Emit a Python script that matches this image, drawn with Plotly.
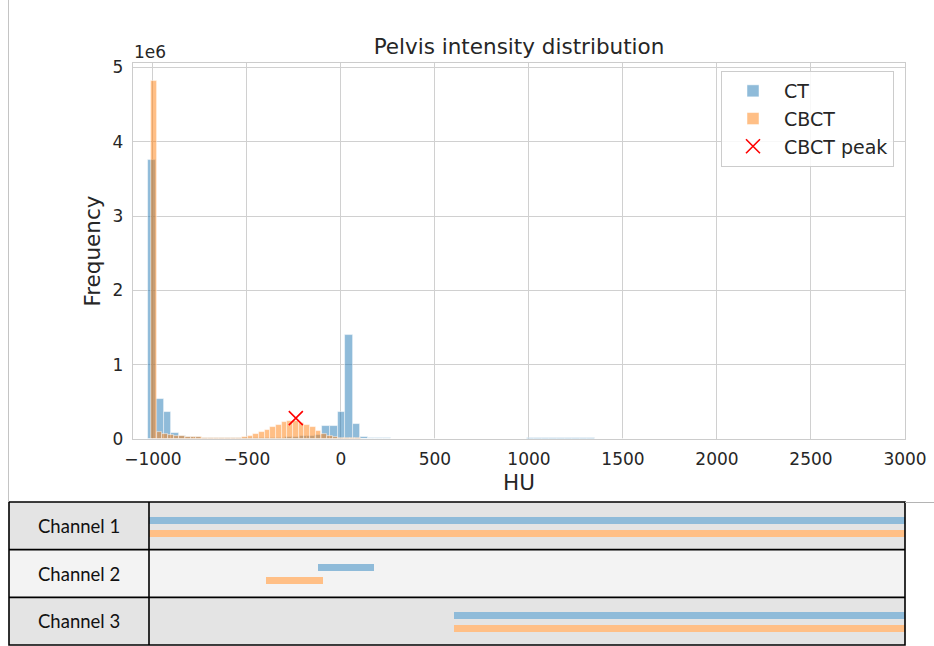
import plotly.graph_objects as go

# ---------------- data ----------------
CT_BIN_START = -1024.0
CT_BIN_WIDTH = 40.24
CT_COUNTS = [3750000, 540000, 370000, 77000, 45000, 30000, 24000, 19000, 15000, 13000,
             11000, 10000, 10000, 10000, 11000, 13000, 16000, 20000, 25000, 30000,
             36000, 45000, 60000, 180000, 180000, 370000, 1400000, 200000, 25000, 10000,
             8000, 7000, 6000, 5000, 4000, 4000, 3000, 3000, 3000, 2000,
             2000, 2000, 2000, 2000, 2000, 2000, 2000, 3000, 4000, 6000,
             8000, 10000, 11000, 12000, 13000, 16000, 18000, 14000, 10000, 6000,
             3000, 2000, 1000]

CBCT_BIN_START = -1010.0
CBCT_BIN_WIDTH = 30.2
CBCT_COUNTS = [4820000, 90000, 70000, 58000, 45000, 35000, 30000, 26000, 22000, 19000,
               16000, 14000, 13000, 13000, 15000, 20000, 28000, 45000, 62000, 90000,
               125000, 160000, 195000, 225000, 245000, 245000, 215000, 190000, 160000, 110000,
               70000, 45000, 30000, 20000, 15000, 10000, 7000, 5000, 4000, 3000,
               2000, 2000, 1000, 1000]

CBCT_PEAK_HU = -240
CBCT_PEAK_FREQ = 280000

X_TICKS = [-1000, -500, 0, 500, 1000, 1500, 2000, 2500, 3000]
X_TICK_LABELS = ["\u22121000", "\u2212500", "0", "500", "1000", "1500", "2000", "2500", "3000"]
Y_TICKS = [0, 1e6, 2e6, 3e6, 4e6, 5e6]
Y_TICK_LABELS = ["0", "1", "2", "3", "4", "5"]

CHANNELS = ["Channel 1", "Channel 2", "Channel 3"]
CT_RANGES_START = [-1024, -125, 600]
CT_RANGES_END = [3000, 175, 3000]
CBCT_RANGES_START = [-1024, -400, 600]
CBCT_RANGES_END = [3000, -100, 3000]

# ---------------- layout helpers ----------------
W, H = 934, 646
ML, MR, MT, MB = 9, 29, 0, 0
PW = W - ML - MR
PH = H - MT - MB


def px_x(px):
    return (px - ML) / PW


def px_y(py):
    return 1 - (py - MT) / PH


BLUE_A = "rgba(31,119,180,0.5)"
ORANGE_A = "rgba(255,127,14,0.5)"
BLUE_S = "#8fbbd9"
ORANGE_S = "#ffbf86"
TXT = "#262626"
GRID = "#d0d0d0"
FONT = "DejaVu Sans"

ct_x = [CT_BIN_START + CT_BIN_WIDTH * (i + 0.5) for i in range(len(CT_COUNTS))]
cbct_x = [CBCT_BIN_START + CBCT_BIN_WIDTH * (i + 0.5) for i in range(len(CBCT_COUNTS))]

fig = go.Figure()
fig.add_trace(go.Bar(x=ct_x, y=CT_COUNTS, width=CT_BIN_WIDTH, name="CT",
                     marker=dict(color=BLUE_A, line=dict(color="rgba(255,255,255,0.6)", width=0.8)),
                     xaxis="x", yaxis="y"))
fig.add_trace(go.Bar(x=cbct_x, y=CBCT_COUNTS, width=CBCT_BIN_WIDTH, name="CBCT",
                     marker=dict(color=ORANGE_A, line=dict(color="rgba(255,255,255,0.6)", width=0.8)),
                     xaxis="x", yaxis="y"))
fig.add_trace(go.Scatter(x=[CBCT_PEAK_HU], y=[CBCT_PEAK_FREQ], mode="markers", name="CBCT peak",
                         marker=dict(symbol="x-thin", size=14, line=dict(color="red", width=1.6), color="red"),
                         xaxis="x", yaxis="y"))

# channel panel bars
n = len(CHANNELS)
row_h_px = (645 - 502) / n
blue_off = 18.0 / row_h_px
orange_off = 31.0 / row_h_px
bar_w = 7.0 / row_h_px
ct_y = [n - i - blue_off for i in range(n)]
cbct_y = [n - i - orange_off for i in range(n)]
fig.add_trace(go.Bar(y=ct_y, base=CT_RANGES_START,
                     x=[e - s for s, e in zip(CT_RANGES_START, CT_RANGES_END)],
                     orientation="h", width=bar_w, marker=dict(color=BLUE_S, line=dict(width=0)),
                     showlegend=False, xaxis="x2", yaxis="y2", hoverinfo="skip"))
fig.add_trace(go.Bar(y=cbct_y, base=CBCT_RANGES_START,
                     x=[e - s for s, e in zip(CBCT_RANGES_START, CBCT_RANGES_END)],
                     orientation="h", width=bar_w, marker=dict(color=ORANGE_S, line=dict(width=0)),
                     showlegend=False, xaxis="x2", yaxis="y2", hoverinfo="skip"))

shapes = []
row_fill = ["#e4e4e4", "#f3f3f3", "#e4e4e4"]
for i in range(n):
    shapes.append(dict(type="rect", xref="paper", yref="y2", x0=0, x1=1, y0=n - i - 1, y1=n - i,
                       fillcolor=row_fill[i], line=dict(width=0), layer="below"))
# table borders
bc = "#000000"
bw = 1.6
shapes.append(dict(type="rect", xref="paper", yref="paper", x0=0, x1=1, y0=px_y(645), y1=px_y(502),
                   line=dict(color=bc, width=bw), fillcolor="rgba(0,0,0,0)", layer="above"))
for i in range(1, n):
    shapes.append(dict(type="line", xref="paper", yref="y2", x0=0, x1=1, y0=n - i, y1=n - i,
                       line=dict(color=bc, width=bw), layer="above"))
shapes.append(dict(type="line", xref="paper", yref="paper", x0=px_x(149), x1=px_x(149),
                   y0=px_y(645), y1=px_y(502), line=dict(color=bc, width=bw), layer="above"))
# outer light frame
shapes.append(dict(type="line", xref="paper", yref="paper", x0=px_x(8.5), x1=px_x(8.5),
                   y0=px_y(0), y1=px_y(502), line=dict(color="#c4c4c4", width=1)))
shapes.append(dict(type="line", xref="paper", yref="paper", x0=1, x1=px_x(934),
                   y0=px_y(502.5), y1=px_y(502.5), line=dict(color="#b4b4b4", width=1)))

annotations = [
    dict(text="1e6", xref="paper", yref="paper", x=px_x(132), y=px_y(52), xanchor="left",
         yanchor="middle", showarrow=False, font=dict(family=FONT, size=17, color=TXT)),
]
for i, name in enumerate(CHANNELS):
    annotations.append(dict(text=name, xref="paper", yref="y2", x=px_x(79), y=n - i - 0.5,
                            xanchor="center", yanchor="middle", showarrow=False,
                            font=dict(family="Lato", size=18.5, color="#111111")))

fig.update_layout(
    width=W, height=H,
    margin=dict(l=ML, r=MR, t=MT, b=MB, autoexpand=False),
    paper_bgcolor="white", plot_bgcolor="white",
    barmode="overlay", bargap=0,
    font=dict(family=FONT, color=TXT),
    title=dict(text="Pelvis intensity distribution", xref="paper", x=px_x(519), xanchor="center",
               yref="container", y=1 - 46 / H, yanchor="middle", automargin=False,
               font=dict(family=FONT, size=21.5, color=TXT)),
    xaxis=dict(domain=[px_x(133), 1], range=[-1106, 3000], anchor="y", automargin=False,
               tickvals=X_TICKS, ticktext=X_TICK_LABELS, tickfont=dict(size=17, color=TXT),
               showgrid=True, gridcolor=GRID, gridwidth=1, zeroline=False,
               showline=True, linecolor="#cccccc", linewidth=1.3, mirror=True,
               ticks="", ticklabelstandoff=4,
               title=dict(text="HU", font=dict(size=21.5, color=TXT), standoff=7)),
    yaxis=dict(domain=[px_y(439), px_y(63)], range=[0, 5.06e6], anchor="x", automargin=False,
               tickvals=Y_TICKS, ticktext=Y_TICK_LABELS, tickfont=dict(size=17, color=TXT),
               showgrid=True, gridcolor=GRID, gridwidth=1, zeroline=False,
               showline=True, linecolor="#cccccc", linewidth=1.3, mirror=True,
               ticks="", ticklabelstandoff=5,
               title=dict(text="Frequency", font=dict(size=21.5, color=TXT), standoff=6)),
    xaxis2=dict(domain=[px_x(149), 1], range=[-1024, 3000], anchor="y2", visible=False, automargin=False),
    yaxis2=dict(domain=[px_y(645), px_y(502)], range=[0, 3], anchor="x2", visible=False, automargin=False),
    legend=dict(x=px_x(721), y=px_y(71), xanchor="left", yanchor="top",
                bgcolor="rgba(255,255,255,0.85)", bordercolor="#cccccc", borderwidth=1,
                font=dict(family=FONT, size=19, color=TXT), itemwidth=52, tracegroupgap=0),
    shapes=shapes,
    annotations=annotations,
    showlegend=True,
)

fig.write_html("out.html", config={"displayModeBar": False},
               post_script="document.body.style.margin='0px';document.body.style.overflow='hidden';")
